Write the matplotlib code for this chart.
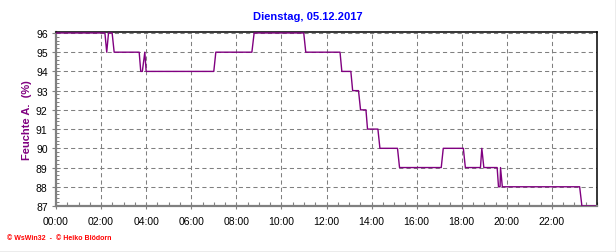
import matplotlib
matplotlib.use("Agg")
import matplotlib.pyplot as plt
from matplotlib.lines import Line2D
from matplotlib.ticker import MultipleLocator

# Feuchte A. am 05.12.2017, Zeit in Stunden
stunden = [0, 2.17, 2.25, 2.33, 2.49, 2.58, 3.69, 3.76, 3.83, 3.94, 4.0,
           7.0, 7.09, 8.69, 8.79, 10.99, 11.08, 12.6, 12.68, 13.08, 13.16,
           13.42, 13.51, 13.75, 13.82, 14.28, 14.37, 15.15, 15.24, 17.09,
           17.18, 18.07, 18.16, 18.83, 18.89, 18.98, 19.57, 19.63, 19.70,
           19.72, 19.8, 23.23, 23.33, 23.92]
feuchte = [96, 96, 95, 96, 96, 95, 95, 94, 94, 95, 94,
           94, 95, 95, 96, 96, 95, 95, 94, 94, 93,
           93, 92, 92, 91, 91, 90, 90, 89, 89,
           90, 90, 89, 89, 90, 89, 89, 88, 88,
           89, 88, 88, 87, 87]

x_ticks = list(range(0, 24, 2))
x_labels = [f"{h:02d}:00" for h in x_ticks]
y_ticks = list(range(87, 97))

titel = "Dienstag, 05.12.2017"
y_titel = "Feuchte A.  (%)"
fuss = "\u00a9 WsWin32  -  \u00a9 Heiko Blödorn"

plt.rcParams['font.family'] = ['Liberation Sans', 'DejaVu Sans']

fig = plt.figure(figsize=(6.16, 2.53), dpi=100)
ax = fig.add_axes([56/616, 1-207/253, (597-56)/616, (207-33)/253])

ax.plot(stunden, feuchte, color='#800080', linewidth=1.0, zorder=3)

ax.set_xlim(0, 24)
ax.set_ylim(87, 96.05)
ax.set_xticks(x_ticks)
ax.set_xticklabels(x_labels)
ax.set_yticks(y_ticks)
ax.xaxis.set_minor_locator(MultipleLocator(0.5))
ax.yaxis.set_minor_locator(MultipleLocator(0.2))

ax.grid(True, which='major', color='#808080', linestyle=(0, (4, 3)), linewidth=0.75)
ax.set_axisbelow(True)

ax.tick_params(axis='both', which='major', labelsize=7.5, colors='#000000')
ax.tick_params(axis='x', which='major', direction='inout', length=5, width=0.8, color='#808080', pad=5)
ax.tick_params(axis='x', which='minor', direction='in', length=3, width=0.8, color='#808080')
ax.tick_params(axis='y', which='major', direction='out', length=3, width=0.8, color='#808080', pad=3)
ax.tick_params(axis='y', which='minor', direction='in', length=2, width=0.7, color='#808080')

for s in ['left', 'bottom']:
    ax.spines[s].set_color('#808080')
    ax.spines[s].set_linewidth(1.6)
for s in ['top', 'right']:
    ax.spines[s].set_color('#000000')
    ax.spines[s].set_linewidth(1.1)

fig.text(0.5, 1-17/253, titel, color='#0000ff', fontsize=8, fontweight='bold', ha='center', va='center')
fig.text(27/616, 0.5*(2-207/253-33/253), y_titel, color='#800080', fontsize=8, fontweight='bold',
         rotation=90, ha='center', va='center')
fig.text(7/616, 1-239/253, fuss, color='#ff0000', fontsize=5, fontweight='bold', ha='left', va='center')

# grauer Rahmen rechts und unten
fig.add_artist(Line2D([615.5/616, 615.5/616], [0, 1], transform=fig.transFigure, color='#a0a0a0', linewidth=1))
fig.add_artist(Line2D([0, 1], [0.5/253, 0.5/253], transform=fig.transFigure, color='#a0a0a0', linewidth=1))

fig.savefig("out.png", dpi=100, facecolor='white')
